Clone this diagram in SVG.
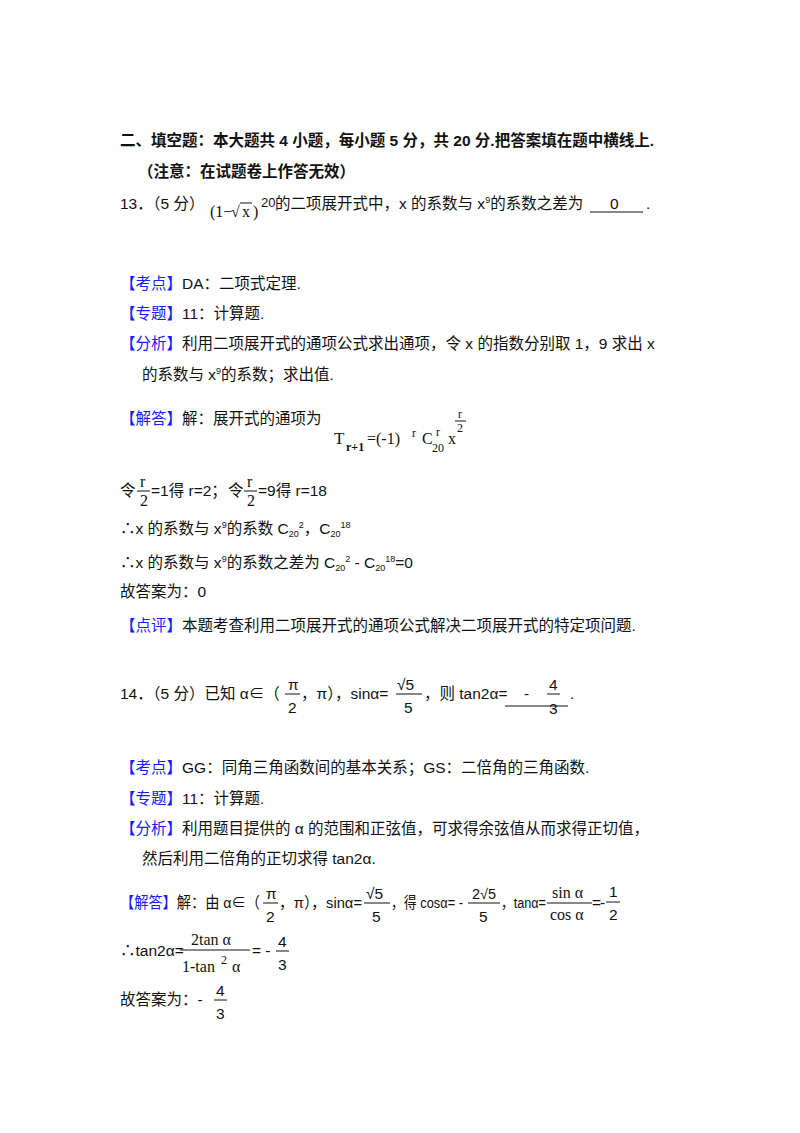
<svg xmlns="http://www.w3.org/2000/svg" width="800" height="1133" viewBox="0 0 800 1133">
<style>
text{font-family:"Liberation Sans","Noto Sans CJK SC",sans-serif;font-size:15.5px;fill:#111}
.b{font-weight:bold}
.bl{fill:#1a1aff}
.m{font-family:"Liberation Serif","Noto Sans CJK SC",serif;font-size:16px}
.s{font-size:9px}
.ms{font-family:"Liberation Serif",serif;font-size:12px}
line{stroke:#111;stroke-width:1}
</style>
<rect width="800" height="1133" fill="#fff"/>
<text class="b" x="120" y="146">二、填空题：本大题共 4 小题，每小题 5 分，共 20 分.把答案填在题中横线上.</text>
<text class="b" x="138" y="177">（注意：在试题卷上作答无效）</text>

<text x="120" y="209">13．（5 分）</text>
<text class="m" x="210" y="217">(1−</text>
<text class="m" x="231" y="217">√</text>
<line x1="240" y1="203" x2="252" y2="203"/>
<text class="m" x="242" y="217">x</text>
<text class="m" x="253" y="217">)</text>
<text x="261" y="207" style="font-size:13px">20</text>
<text x="275" y="209">的二项展开式中，x 的系数与 x<tspan class="s" dy="-6">9</tspan><tspan dy="6">的系数之差为</tspan></text>
<line x1="590" y1="212" x2="643" y2="212"/>
<text x="610" y="209">0</text>
<text x="646" y="209">.</text>

<text x="120" y="289"><tspan class="bl">【考点】</tspan>DA：二项式定理.</text>
<text x="120" y="319"><tspan class="bl">【专题】</tspan>11：计算题.</text>
<text x="120" y="349"><tspan class="bl">【分析】</tspan>利用二项展开式的通项公式求出通项，令 x 的指数分别取 1，9 求出 x</text>
<text x="142" y="380">的系数与 x<tspan class="s" dy="-6">9</tspan><tspan dy="6">的系数；求出值.</tspan></text>
<text x="120" y="424"><tspan class="bl">【解答】</tspan>解：展开式的通项为</text>
<text class="m" x="334" y="444" style="font-size:17px">T</text>
<text class="ms" x="346" y="451" style="font-weight:bold">r+1</text>
<text class="m" x="367" y="444">=(-1)</text>
<text class="ms" x="412" y="437">r</text>
<text class="m" x="422" y="444">C</text>
<text class="ms" x="436" y="436">r</text>
<text class="ms" x="432" y="452">20</text>
<text class="m" x="448" y="444">x</text>
<text class="ms" x="458" y="418">r</text>
<line x1="455" y1="421" x2="466" y2="421"/>
<text class="ms" x="457" y="432">2</text>

<text x="120" y="496">令</text>
<text class="m" x="140" y="487">r</text><line x1="137" y1="491" x2="150" y2="491"/><text class="m" x="140" y="506">2</text>
<text x="151" y="496">=1得 r=2；</text>
<text x="228" y="496">令</text>
<text class="m" x="247" y="487">r</text><line x1="244" y1="491" x2="257" y2="491"/><text class="m" x="247" y="506">2</text>
<text x="258" y="496">=9得 r=18</text>
<text x="120" y="534">∴x 的系数与 x<tspan class="s" dy="-6">9</tspan><tspan dy="6">的系数 C</tspan><tspan class="s" dy="3">20</tspan><tspan class="s" dy="-9">2</tspan><tspan dy="6">，C</tspan><tspan class="s" dy="3">20</tspan><tspan class="s" dy="-9">18</tspan></text>
<text x="120" y="568">∴x 的系数与 x<tspan class="s" dy="-6">9</tspan><tspan dy="6">的系数之差为 C</tspan><tspan class="s" dy="3">20</tspan><tspan class="s" dy="-9">2</tspan><tspan dy="6"> - C</tspan><tspan class="s" dy="3">20</tspan><tspan class="s" dy="-9">18</tspan><tspan dy="6">=0</tspan></text>
<text x="120" y="597">故答案为：0</text>
<text x="120" y="631"><tspan class="bl">【点评】</tspan>本题考查利用二项展开式的通项公式解决二项展开式的特定项问题.</text>

<text x="120" y="699">14．（5 分）已知 α∈（</text>
<text x="288" y="690">π</text><line x1="285" y1="694" x2="300" y2="694"/><text x="288" y="713">2</text>
<text x="301" y="699">，π），sinα=</text>
<text x="397" y="690">√5</text><line x1="396" y1="694" x2="422" y2="694"/><text x="404" y="713">5</text>
<text x="424" y="699">，则 tan2α=</text>
<line x1="505" y1="706" x2="568" y2="706"/>
<text x="524" y="699">-</text>
<text x="549" y="690">4</text><line x1="547" y1="694" x2="560" y2="694"/><text x="549" y="714">3</text>
<text x="570" y="699">.</text>

<text x="120" y="773"><tspan class="bl">【考点】</tspan>GG：同角三角函数间的基本关系；GS：二倍角的三角函数.</text>
<text x="120" y="804"><tspan class="bl">【专题】</tspan>11：计算题.</text>
<text x="120" y="834"><tspan class="bl">【分析】</tspan>利用题目提供的 α 的范围和正弦值，可求得余弦值从而求得正切值，</text>
<text x="142" y="864">然后利用二倍角的正切求得 tan2α.</text>

<text x="120" y="908" textLength="140" lengthAdjust="spacingAndGlyphs"><tspan class="bl">【解答】</tspan>解：由 α∈（</text>
<text x="266" y="899">π</text><line x1="263" y1="903" x2="278" y2="903"/><text x="266" y="922">2</text>
<text x="279" y="908" textLength="83" lengthAdjust="spacingAndGlyphs">，π），sinα=</text>
<text x="366" y="899">√5</text><line x1="364" y1="903" x2="390" y2="903"/><text x="372" y="922">5</text>
<text x="391" y="908" textLength="72" lengthAdjust="spacingAndGlyphs">，得 cosα= -</text>
<text x="472" y="899" style="font-size:14.5px">2√5</text><line x1="468" y1="903" x2="500" y2="903"/><text x="479" y="922">5</text>
<text x="501" y="908" textLength="45" lengthAdjust="spacingAndGlyphs">，tanα=</text>
<text class="m" x="552" y="898">sin α</text><line x1="547" y1="903" x2="592" y2="903"/><text class="m" x="550" y="920">cos α</text>
<text x="592" y="908">=</text>
<text x="600" y="908">-</text>
<line x1="606" y1="902" x2="620" y2="902"/>
<text x="609" y="897">1</text><text x="609" y="920">2</text>

<text x="120" y="956">∴tan2α=</text>
<text class="m" x="191" y="945">2tan α</text><line x1="180" y1="950" x2="250" y2="950"/><text class="m" x="182" y="972">1-tan</text>
<text class="ms" x="221" y="964">2</text><text class="m" x="232" y="972">α</text>
<text x="252" y="956">= -</text>
<text x="278" y="947">4</text><line x1="276" y1="951" x2="289" y2="951"/><text x="278" y="970">3</text>

<text x="120" y="1005">故答案为：-</text>
<text x="216" y="996">4</text><line x1="214" y1="1000" x2="227" y2="1000"/><text x="216" y="1019">3</text>
</svg>
